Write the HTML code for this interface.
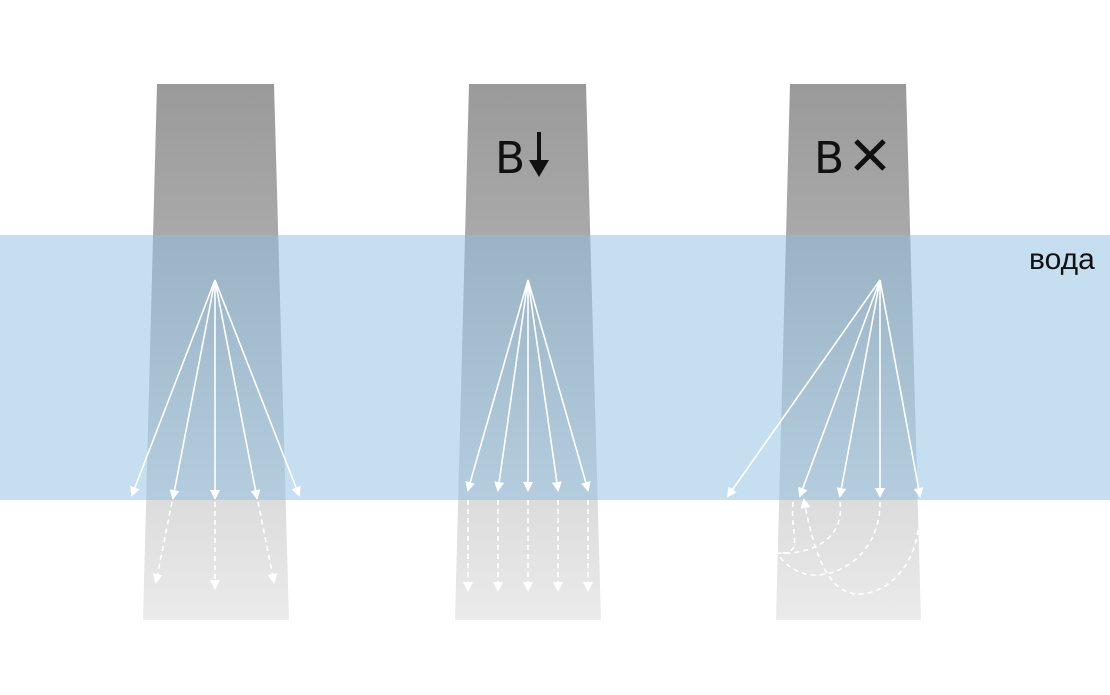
<!DOCTYPE html>
<html><head><meta charset="utf-8"><style>
body{margin:0;background:#fff;width:1110px;height:690px;overflow:hidden}
</style></head><body>
<svg width="1110" height="690" xmlns="http://www.w3.org/2000/svg">
<defs>
<linearGradient id="g" x1="0" y1="0" x2="0" y2="1" gradientUnits="objectBoundingBox">
<stop offset="0" stop-color="#9a9a9a"/><stop offset="0.3" stop-color="#aaaaaa"/><stop offset="0.78" stop-color="#dcdcdc"/><stop offset="1" stop-color="#ebebeb"/></linearGradient>
<marker id="a" markerWidth="10" markerHeight="10" refX="8" refY="5" orient="auto" markerUnits="userSpaceOnUse"><path d="M0,0 L10,5 L0,10 z" fill="#fff"/></marker>
</defs>
<polygon points="157,84 274,84 289,620 143,620" fill="url(#g)"/>
<polygon points="469,84 586,84 601,620 455,620" fill="url(#g)"/>
<polygon points="790,84 906,84 921,620 776,620" fill="url(#g)"/>
<rect x="0" y="235" width="1110" height="265" fill="rgb(140,190,225)" fill-opacity="0.5"/>
<text x="1029" y="269" font-family="Liberation Sans, DejaVu Sans, sans-serif" font-size="30" fill="#111">вода</text>
<text x="495" y="173" font-family="DejaVu Sans, Liberation Sans, sans-serif" font-size="44" fill="#111">В</text>
<path d="M539,132 V162" stroke="#111" stroke-width="4"/><path d="M529,160 L549,160 L539,177 z" fill="#111"/>
<text x="814" y="173" font-family="DejaVu Sans, Liberation Sans, sans-serif" font-size="44" fill="#111">В</text>
<path d="M856,141 L884,169 M884,141 L856,169" stroke="#111" stroke-width="5"/>
<g stroke="#fff" stroke-width="1.6" fill="none" marker-end="url(#a)">
<line x1="215" y1="280" x2="132" y2="495"/><line x1="215" y1="280" x2="173" y2="498"/><line x1="215" y1="280" x2="215" y2="498"/><line x1="215" y1="280" x2="257" y2="498"/><line x1="215" y1="280" x2="299" y2="495"/>
<line x1="528" y1="280" x2="468" y2="490"/><line x1="528" y1="280" x2="498" y2="490"/><line x1="528" y1="280" x2="528" y2="490"/><line x1="528" y1="280" x2="558" y2="490"/><line x1="528" y1="280" x2="588" y2="490"/>
<line x1="880" y1="280" x2="728" y2="496"/><line x1="880" y1="280" x2="800" y2="496"/><line x1="880" y1="280" x2="840" y2="496"/><line x1="880" y1="280" x2="880" y2="496"/><line x1="880" y1="280" x2="920" y2="496"/>
</g>
<g stroke="#fff" stroke-width="1.6" fill="none" stroke-dasharray="5,4" marker-end="url(#a)">
<line x1="172" y1="502" x2="156" y2="582"/><line x1="215" y1="502" x2="215" y2="588"/><line x1="258" y1="502" x2="274" y2="582"/>
<line x1="468" y1="500" x2="468" y2="590"/><line x1="498" y1="500" x2="498" y2="590"/><line x1="528" y1="500" x2="528" y2="590"/><line x1="558" y1="500" x2="558" y2="590"/><line x1="588" y1="500" x2="588" y2="590"/>
<path d="M918,530 C912,575 880,595 858,594 C830,593 815,560 804,500"/>
</g>
<g stroke="#fff" stroke-width="1.6" fill="none" stroke-dasharray="5,4">
<path d="M793,502 C790,535 805,555 778,553"/>
<path d="M840,502 C845,540 810,555 778,553"/>
<path d="M880,502 C880,550 845,575 815,575 C795,575 780,560 778,553"/>
<line x1="130" y1="500" x2="128" y2="510"/><line x1="300" y1="500" x2="302" y2="510"/>
</g>
</svg>
</body></html>
